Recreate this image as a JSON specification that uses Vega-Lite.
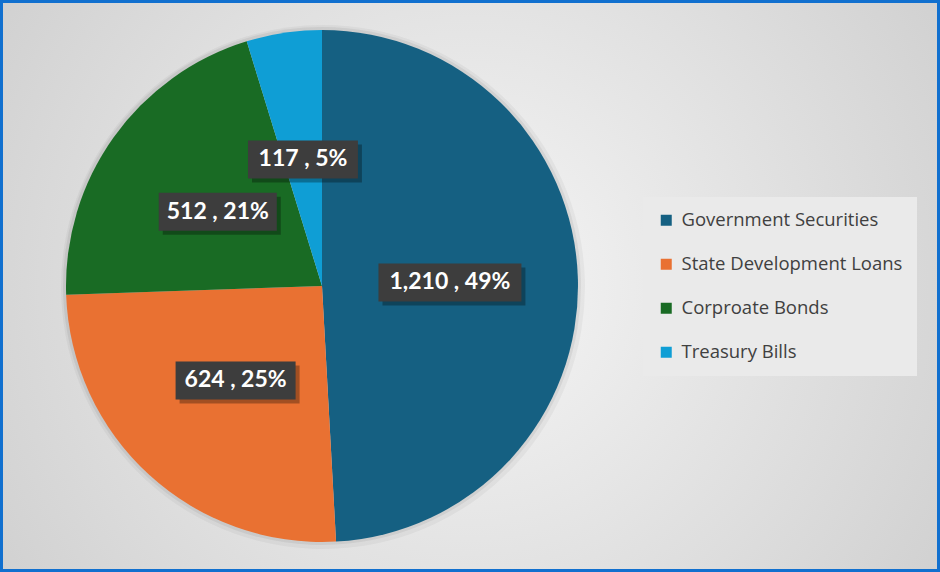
{
  "$schema": "https://vega.github.io/schema/vega-lite/v6.json",
  "width": 940,
  "height": 572,
  "autosize": {"type": "none"},
  "padding": 0,
  "background": "#dcdcdc",
  "config": {"view": {"stroke": null}},
  "data": {
    "values": [
      {"category": "Government Securities", "value": 1210, "idx": 1},
      {"category": "State Development Loans", "value": 624, "idx": 2},
      {"category": "Corproate Bonds", "value": 512, "idx": 3},
      {"category": "Treasury Bills", "value": 117, "idx": 4}
    ]
  },
  "transform": [
    {"joinaggregate": [{"op": "sum", "field": "value", "as": "total"}]},
    {"window": [{"op": "sum", "field": "value", "as": "cum"}], "sort": [{"field": "idx"}], "frame": [null, 0]},
    {"calculate": "(datum.cum - datum.value / 2) / datum.total * 2 * PI", "as": "mid"},
    {"calculate": "0.5 * sin(datum.mid)", "as": "cx"},
    {"calculate": "0.5 * cos(datum.mid)", "as": "cy"},
    {"calculate": "format(datum.value, ',') + ' , ' + format(datum.value / datum.total, '.0%')", "as": "label"}
  ],
  "layer": [
    {
      "mark": {
        "type": "rect",
        "fill": {
          "gradient": "radial",
          "x1": 0.5, "y1": 0.5, "r1": 0,
          "x2": 0.5, "y2": 0.5, "r2": 0.71,
          "stops": [
            {"offset": 0, "color": "#f6f6f6"},
            {"offset": 1, "color": "#c9c9c9"}
          ]
        },
        "stroke": "#1170cf",
        "strokeWidth": 6
      },
      "encoding": {
        "x": {"value": 0},
        "x2": {"value": "width"},
        "y": {"value": 0},
        "y2": {"value": "height"}
      }
    },
    {
      "mark": {"type": "arc", "outerRadius": 262, "x": 323, "y": 287, "fill": "#000000", "opacity": 0.04},
      "encoding": {
        "theta": {"field": "value", "type": "quantitative", "stack": true},
        "order": {"field": "idx", "type": "quantitative"}
      }
    },
    {
      "mark": {"type": "arc", "outerRadius": 259, "x": 322, "y": 286, "fill": "#000000", "opacity": 0.06},
      "encoding": {
        "theta": {"field": "value", "type": "quantitative", "stack": true},
        "order": {"field": "idx", "type": "quantitative"}
      }
    },
    {
      "mark": {"type": "arc", "outerRadius": 256, "x": 322, "y": 286},
      "encoding": {
        "theta": {"field": "value", "type": "quantitative", "stack": true},
        "order": {"field": "idx", "type": "quantitative"},
        "color": {
          "field": "category",
          "type": "nominal",
          "scale": {
            "domain": ["Government Securities", "State Development Loans", "Corproate Bonds", "Treasury Bills"],
            "range": ["#156082", "#e97132", "#196b24", "#0f9ed5"]
          },
          "legend": {
            "orient": "none",
            "legendX": 643,
            "legendY": 197,
            "title": null,
            "symbolType": "square",
            "symbolSize": 121,
            "symbolStrokeWidth": 0,
            "symbolOpacity": 1,
            "labelFont": "Open Sans",
            "labelFontSize": 18.5,
            "labelLimit": 400,
            "labelColor": "#404040",
            "labelOffset": 6,
            "fillColor": "#eaeaea",
            "padding": 14,
            "rowPadding": 25
          }
        }
      }
    },
    {
      "mark": {"type": "point", "filled": true, "fill": "#000000", "opacity": 0.3, "strokeWidth": 0, "size": 22500, "xOffset": 4, "yOffset": 4},
      "encoding": {
        "x": {"field": "cx", "type": "quantitative", "scale": {"domain": [-1, 1], "range": [66, 578]}, "axis": null},
        "y": {"field": "cy", "type": "quantitative", "scale": {"domain": [-1, 1], "range": [542, 30]}, "axis": null},
        "shape": {
          "field": "idx",
          "type": "ordinal",
          "scale": {
            "domain": [1, 2, 3, 4],
            "range": [
              "M-0.953,-0.253L0.953,-0.253L0.953,0.253L-0.953,0.253Z",
              "M-0.8,-0.253L0.8,-0.253L0.8,0.253L-0.8,0.253Z",
              "M-0.787,-0.253L0.787,-0.253L0.787,0.253L-0.787,0.253Z",
              "M-0.733,-0.253L0.733,-0.253L0.733,0.253L-0.733,0.253Z"
            ]
          },
          "legend": null
        }
      }
    },
    {
      "mark": {"type": "point", "filled": true, "fill": "#3d3d3d", "opacity": 1, "strokeWidth": 0, "size": 22500},
      "encoding": {
        "x": {"field": "cx", "type": "quantitative"},
        "y": {"field": "cy", "type": "quantitative"},
        "shape": {"field": "idx", "type": "ordinal", "legend": null}
      }
    },
    {
      "mark": {"type": "text", "font": "Lato", "fontWeight": "bold", "fontSize": 23, "color": "#ffffff", "align": "center", "baseline": "middle"},
      "encoding": {
        "x": {"field": "cx", "type": "quantitative"},
        "y": {"field": "cy", "type": "quantitative"},
        "text": {"field": "label"}
      }
    }
  ]
}
